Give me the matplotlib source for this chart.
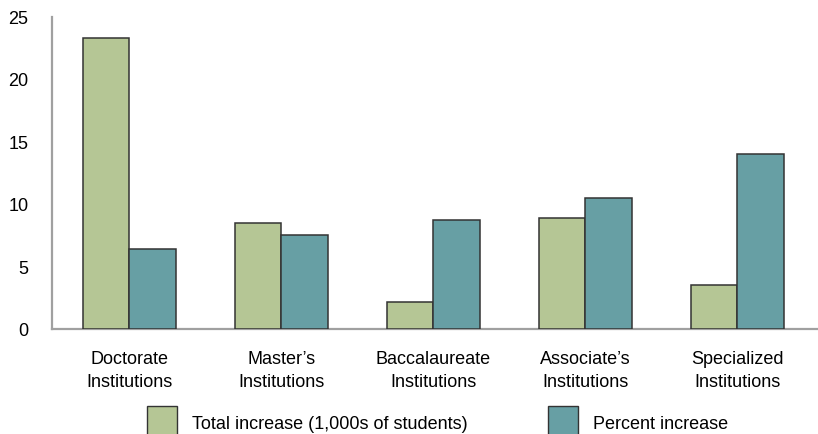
import numpy as np
import matplotlib.pyplot as plt
from matplotlib.patches import Patch

plt.rcParams['font.family'] = ['Liberation Sans', 'DejaVu Sans']

# institution types and the two series
categories = ['Doctorate\nInstitutions', 'Master\u2019s\nInstitutions', 'Baccalaureate\nInstitutions',
              'Associate\u2019s\nInstitutions', 'Specialized\nInstitutions']
total_increase = [23.3, 8.5, 2.2, 8.9, 3.5]      # 1,000s of students
percent_increase = [6.4, 7.5, 8.7, 10.5, 14.0]
yticks = [0, 5, 10, 15, 20, 25]
series_names = ['Total increase (1,000s of students)', 'Percent increase']

green = '#b5c695'
teal = '#679fa4'
edge = '#333333'
fs = 13

fig = plt.figure(figsize=(8.18, 4.35), dpi=100)
ax = fig.add_axes([52 / 818, 1 - 330 / 435, 1 - 52 / 818, (330 - 17.5) / 435])

x = np.arange(len(categories))
w = 0.306
ax.bar(x - w / 2, total_increase, w, color=green, edgecolor=edge, linewidth=1.1, zorder=3)
ax.bar(x + w / 2, percent_increase, w, color=teal, edgecolor=edge, linewidth=1.1, zorder=3)

ax.set_xlim(-0.507, 4.53)
ax.set_ylim(0, 25)
ax.set_yticks(yticks)
ax.set_xticks(x)
ax.set_xticklabels(categories, fontsize=fs, linespacing=1.45)
ax.tick_params(axis='y', labelsize=fs, length=0, pad=17)
ax.tick_params(axis='x', length=0, pad=15)

for side in ['top', 'right']:
    ax.spines[side].set_visible(False)
for side in ['left', 'bottom']:
    ax.spines[side].set_color('#a0a0a0')
    ax.spines[side].set_linewidth(1.6)

# two legend entries, placed one after the other under the labels
legend_x = [147, 548]
for name, color, lx in zip(series_names, [green, teal], legend_x):
    fig.legend([Patch(facecolor=color, edgecolor=edge, linewidth=1.0)], [name],
               loc='upper left', bbox_to_anchor=(lx / 818, 1 - 407 / 435),
               frameon=False, fontsize=fs, handlelength=1.67, handleheight=2.4,
               handletextpad=0.8, borderaxespad=0, borderpad=0)

fig.savefig('out.png', dpi=100)
